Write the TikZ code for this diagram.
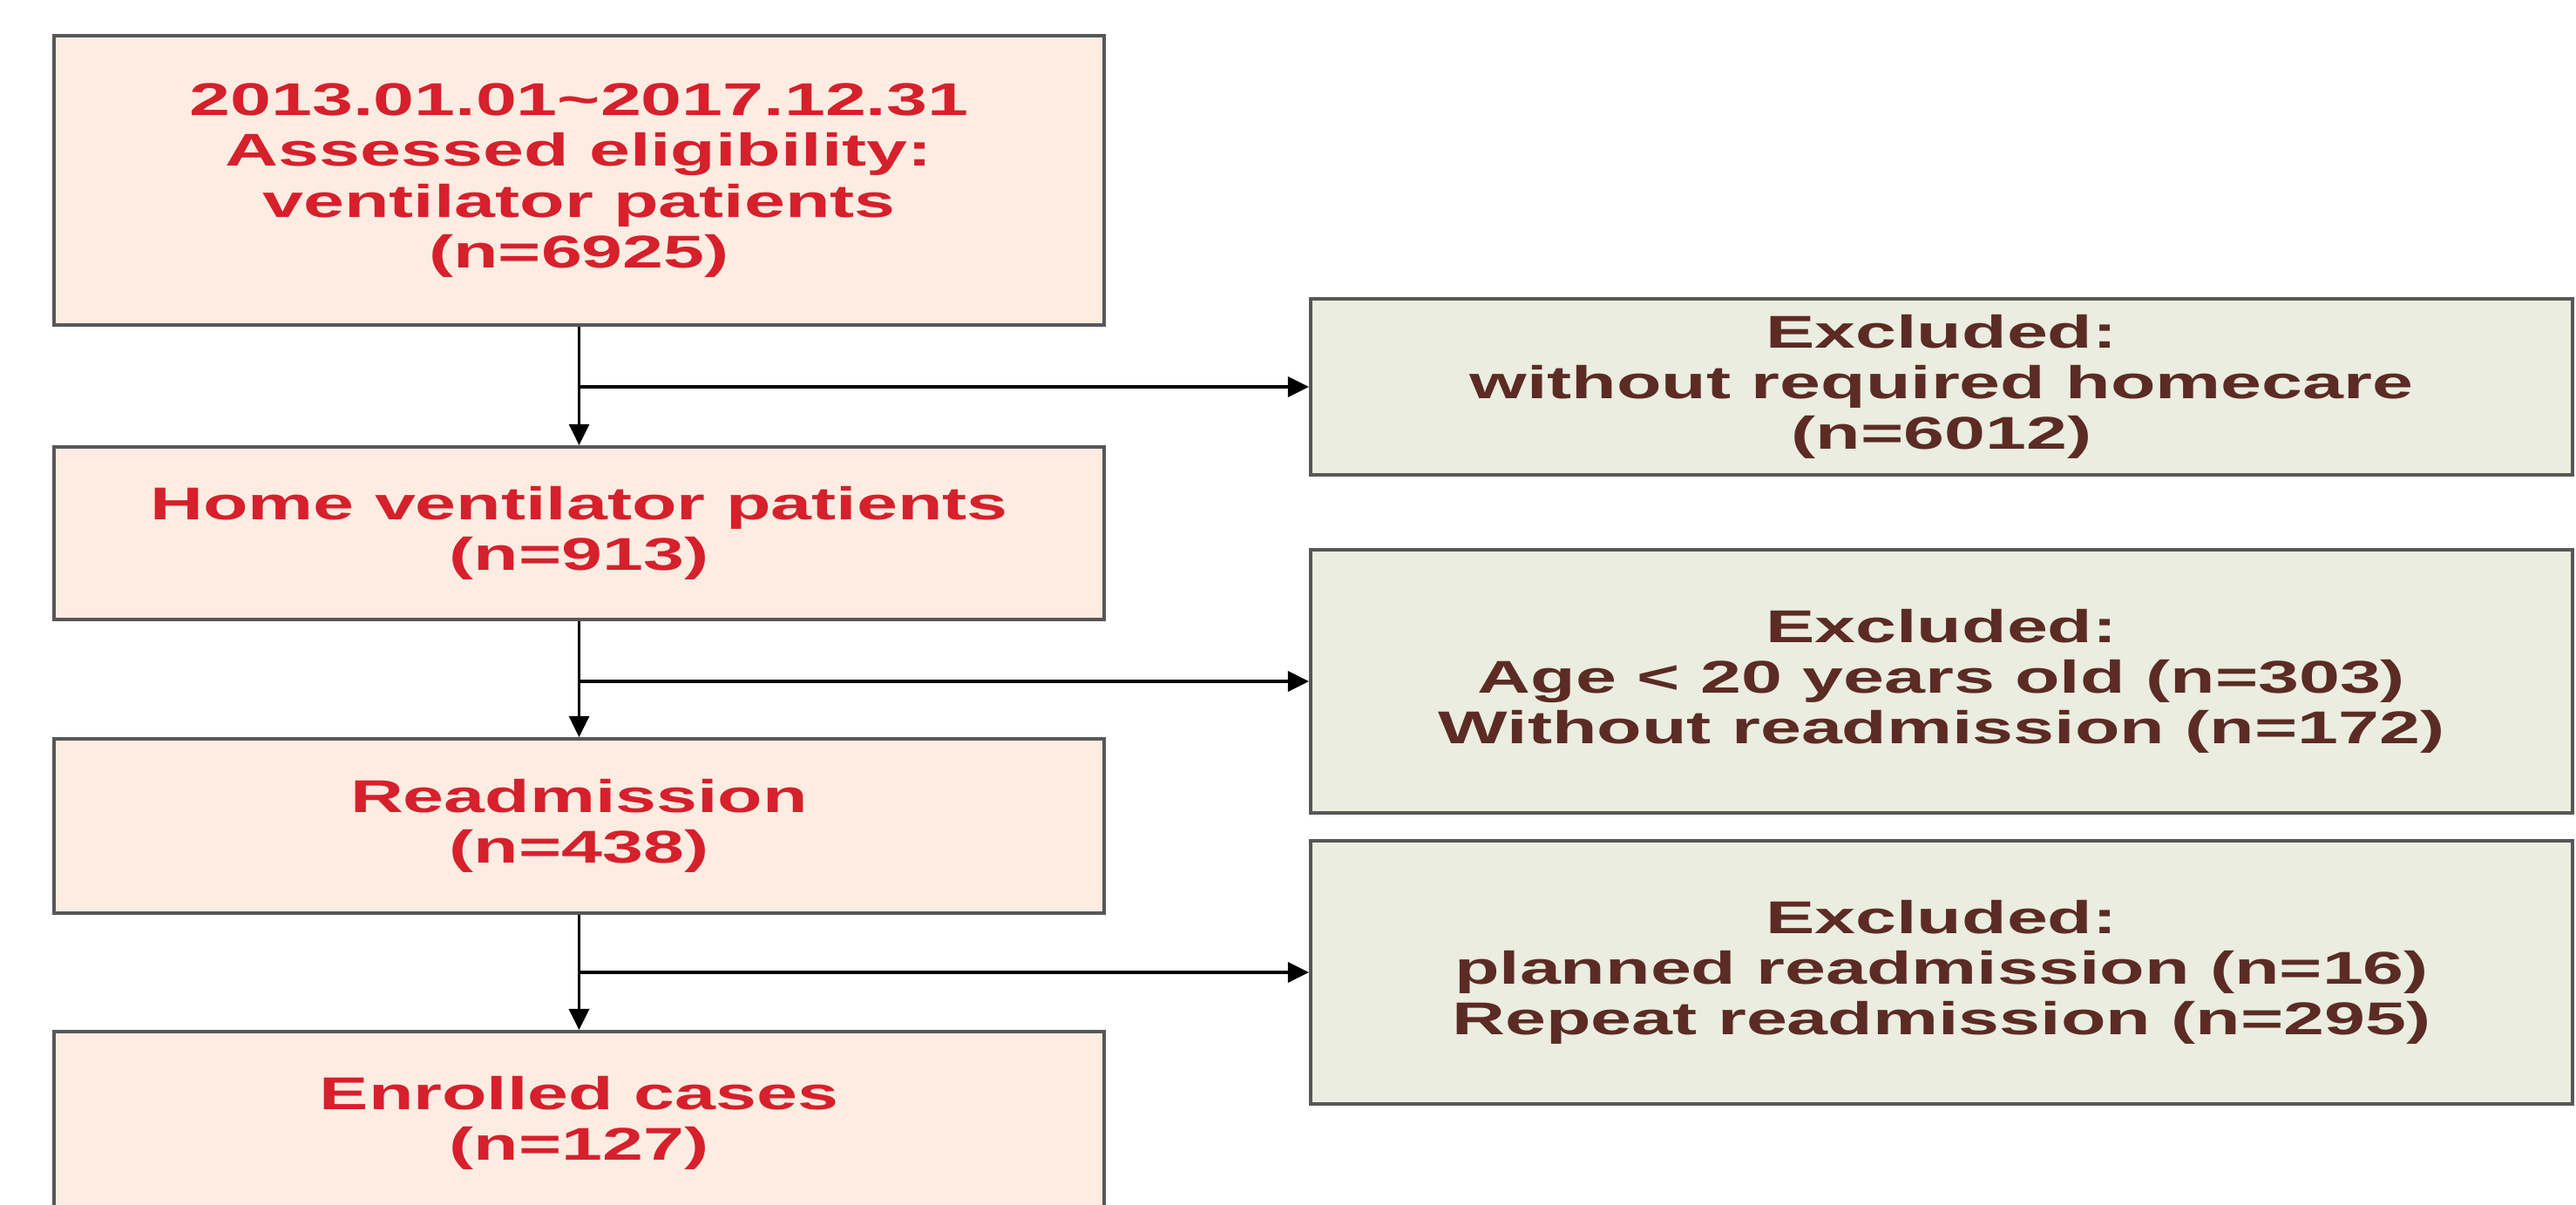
\documentclass[tikz,border=0pt]{standalone}
\usepackage{fontspec}
\setmainfont{Liberation Sans}[FakeStretch=1.6]
\usetikzlibrary{arrows.meta,positioning}
\definecolor{peach}{HTML}{FCECE2}
\definecolor{sage}{HTML}{EAEDDF}
\definecolor{redtext}{HTML}{D6202C}
\definecolor{browntext}{HTML}{5B2B24}
\definecolor{edgegray}{HTML}{575757}
\newcommand{\flowfont}{\bfseries\fontsize{15}{16.6}\selectfont}
\tikzset{
  >={Triangle[length=2.4mm,width=2.3mm]},
  stage/.style={draw=edgegray, fill=peach, text=redtext, line width=1.2pt, inner sep=0pt,
    minimum width=12.05cm, align=center, font=\flowfont},
  excl/.style={draw=edgegray, fill=sage, text=browntext, line width=1.2pt, inner sep=0pt,
    minimum width=14.48cm, align=center, font=\flowfont},
  flow/.style={->, line width=.9pt, color=black}
}
\begin{document}
\begin{tikzpicture}[x=1cm,y=1cm]
  \useasboundingbox (0,0) rectangle (29.56,-13.83);
  \clip (0,0) rectangle (29.56,-13.83);

  % main column
  \node[stage,minimum height=3.32cm] (s1) at (6.645,-2.07)
    {2013.01.01\textasciitilde2017.12.31\\Assessed eligibility:\\ventilator patients\\(n=6925)};
  \node[stage,minimum height=1.98cm] (s2) at (6.645,-6.12) {Home ventilator patients\\(n=913)};
  \node[stage,minimum height=2.0cm] (s3) at (6.645,-9.48) {Readmission\\(n=438)};
  \node[stage,minimum height=2.1cm] (s4) at (6.645,-12.89) {Enrolled cases\\(n=127)};

  % exclusions
  \node[excl,minimum height=2.02cm] (x1) at (22.28,-4.44) {Excluded:\\without required homecare\\(n=6012)};
  \node[excl,minimum height=3.02cm] (x2) at (22.28,-7.82) {Excluded:\\Age < 20 years old (n=303)\\Without readmission (n=172)};
  \node[excl,minimum height=3.02cm] (x3) at (22.28,-11.16) {Excluded:\\planned readmission (n=16)\\Repeat readmission (n=295)};

  \foreach \a/\b/\x in {s1/s2/x1,s2/s3/x2,s3/s4/x3}{
    \draw[flow] (\a) -- (\b);
    \coordinate (j\x) at (\a.south |- \x.west);
    \draw[flow] (j\x) -- (\x.west);
  }
\end{tikzpicture}
\end{document}
